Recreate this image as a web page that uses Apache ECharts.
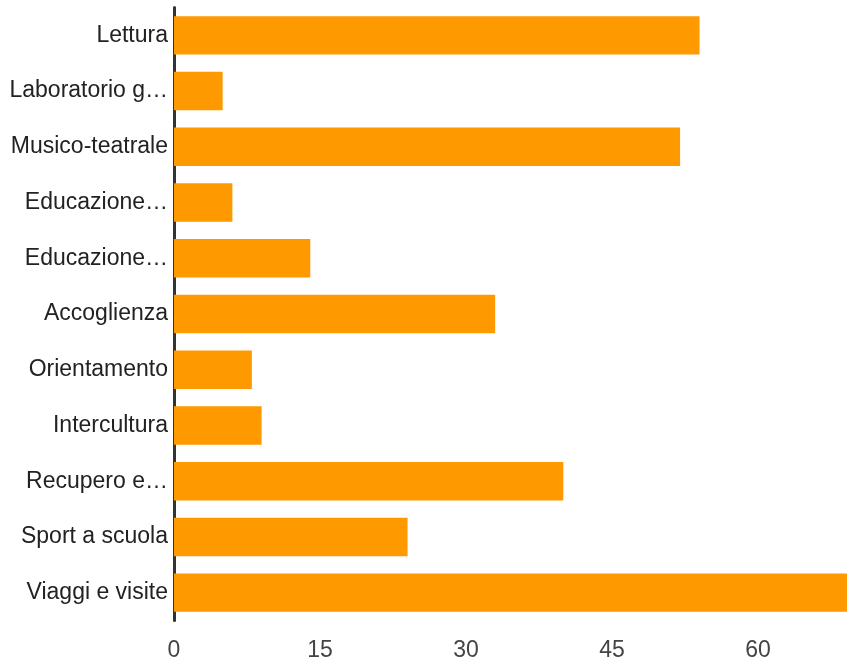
<!DOCTYPE html>
<html>
<head>
<meta charset="utf-8">
<script src="https://cdn.jsdelivr.net/npm/echarts@6/dist/echarts.min.js"></script>
<style>html,body{margin:0;padding:0;background:#fff}#c{width:847px;height:663px}</style>
</head>
<body>
<div id="c"></div>
<script>
const categories = ["Lettura","Laboratorio g…","Musico-teatrale","Educazione…","Educazione…","Accoglienza","Orientamento","Intercultura","Recupero e…","Sport a scuola","Viaggi e visite"];
const values = [54, 5, 52, 6, 14, 33, 8, 9, 40, 24, 70];
const tickValues = [0, 15, 30, 45, 60];

const chart = echarts.init(document.getElementById('c'), null, {renderer:'canvas'});
chart.setOption({
  animation: false,
  grid: {left: 174, right: 0, top: 7.5, height: 613, containLabel: false},
  xAxis: {
    type: 'value', min: 0, max: 69.15, interval: 15,
    axisLine: {show: false}, axisTick: {show: false}, splitLine: {show: false},
    axisLabel: {
      showMaxLabel: false, margin: 19,
      color: '#444', fontSize: 23, fontFamily: 'Liberation Sans, Arial, sans-serif',
      formatter: v => tickValues.includes(v) ? String(v) : ''
    }
  },
  yAxis: {
    type: 'category', data: categories, inverse: true,
    axisLine: {show: true, lineStyle: {color: '#333', width: 3}},
    axisTick: {show: false},
    axisLabel: {color: '#222', fontSize: 23, margin: 6, padding: [3, 0, 0, 0], fontFamily: 'Liberation Sans, Arial, sans-serif'}
  },
  series: [{
    type: 'bar', data: values, barCategoryGap: '31%',
    itemStyle: {color: '#ff9900'}
  }]
});
</script>
</body>
</html>
